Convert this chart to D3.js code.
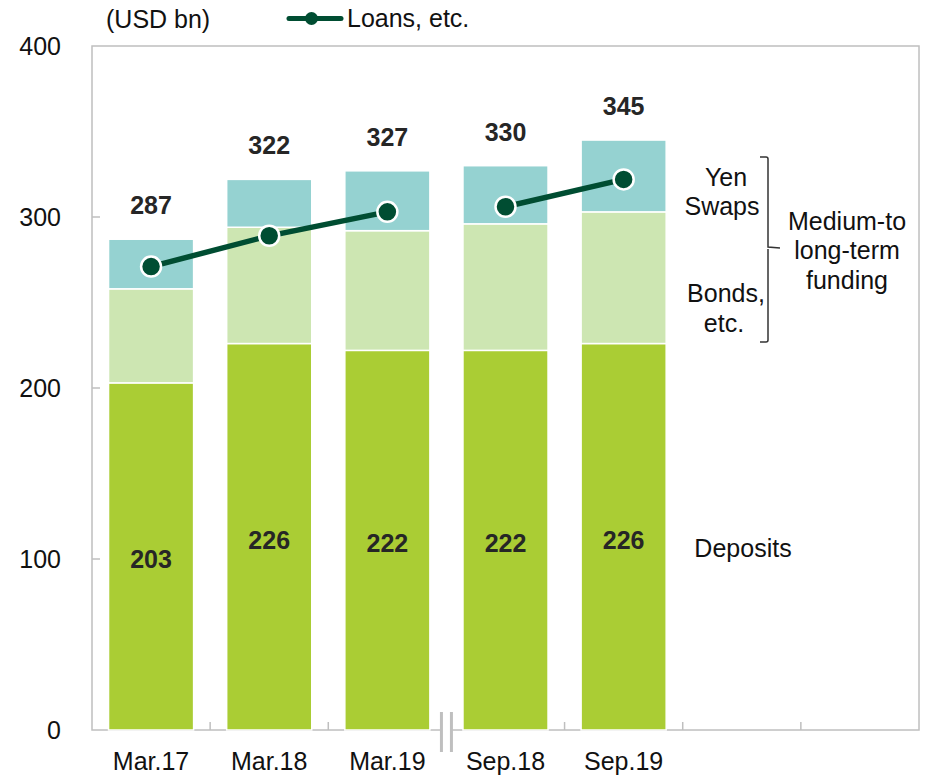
<!DOCTYPE html>
<html>
<head>
<meta charset="utf-8">
<script src="https://cdn.jsdelivr.net/npm/d3@7/dist/d3.min.js"></script>
<style>
  html, body { margin: 0; padding: 0; background: #fff; }
  svg { display: block; font-family: "Liberation Sans", Arial, sans-serif; }
</style>
</head>
<body>
<svg id="chart" width="928" height="777"></svg>
<script>
// Funding structure, USD bn
const categories = ["Mar.17", "Mar.18", "Mar.19", "Sep.18", "Sep.19"];
const deposits   = [203, 226, 222, 222, 226];
const bonds      = [55, 68, 70, 74, 77];
const yenSwaps   = [29, 28, 35, 34, 42];
const loans      = [271, 289, 303, 306, 322];
const yTicks     = [0, 100, 200, 300, 400];

const colors = {
  deposits: "#aacd34",
  bonds: "#cde6b2",
  swaps: "#95d2d1",
  line: "#004d32",
  axis: "#bfbfbf",
  text: "#262626"
};

const svg = d3.select("#chart");
const plotLeft = 92, plotRight = 919, plotTop = 46, plotBottom = 730;

// two spare slots keep the axis running past the last period
const slots = categories.concat(["_a", "_b"]);
const x = d3.scaleBand().domain(slots).range([plotLeft, plotRight])
  .paddingInner(0.28).paddingOuter(0.14);
const step = x.step();
const y = d3.scaleLinear().domain([0, 400]).range([plotBottom, plotTop]);

const rows = categories.map((c, i) => ({
  cat: c,
  period: c.split(".")[0],          // fiscal year-end (Mar) vs half-year (Sep)
  deposits: deposits[i],
  bonds: bonds[i],
  swaps: yenSwaps[i],
  loans: loans[i],
  total: deposits[i] + bonds[i] + yenSwaps[i]
}));
const keys = ["deposits", "bonds", "swaps"];
const stacked = d3.stack().keys(keys)(rows);

// plot frame
svg.append("rect")
  .attr("x", plotLeft).attr("y", plotTop)
  .attr("width", plotRight - plotLeft).attr("height", plotBottom - plotTop)
  .attr("fill", "none").attr("stroke", colors.axis).attr("stroke-width", 1.5);

// y axis ticks (inside) and labels
const yAxis = svg.append("g");
yAxis.selectAll("line").data(yTicks.slice(1, -1)).join("line")
  .attr("x1", plotLeft).attr("x2", plotLeft + 8)
  .attr("y1", d => y(d)).attr("y2", d => y(d))
  .attr("stroke", colors.axis).attr("stroke-width", 1.5);
yAxis.selectAll("text").data(yTicks).join("text")
  .attr("x", 61).attr("y", d => y(d) + 9)
  .attr("text-anchor", "end")
  .attr("font-size", 25).attr("fill", "#111")
  .text(d => d);

// stacked bars
const bw = x.bandwidth();
svg.append("g").selectAll("g").data(stacked).join("g")
  .attr("fill", d => colors[d.key])
  .selectAll("rect").data(d => d).join("rect")
  .attr("x", d => x(d.data.cat))
  .attr("y", d => y(d[1]))
  .attr("width", bw)
  .attr("height", d => y(d[0]) - y(d[1]))
  .attr("stroke", "#fff").attr("stroke-width", 1.5);

// x axis tick marks between periods (the break sits between Mar.19 and Sep.18)
const boundaries = slots.slice(1).map(s => x(s) - x.paddingInner() * step / 2);
const breakX = x("Sep.18") - x.paddingInner() * step / 2;
svg.append("g").selectAll("line")
  .data(boundaries.filter(b => Math.abs(b - breakX) > 1)).join("line")
  .attr("x1", d => d).attr("x2", d => d)
  .attr("y1", plotBottom).attr("y2", plotBottom - 8)
  .attr("stroke", colors.axis).attr("stroke-width", 1.5);

// axis break mark
const brk = svg.append("g");
brk.append("rect")
  .attr("x", breakX - 5).attr("y", plotBottom - 3)
  .attr("width", 10).attr("height", 6).attr("fill", "#fff");
[-5, 5].forEach(dx => {
  brk.append("line")
    .attr("x1", breakX + dx).attr("x2", breakX + dx)
    .attr("y1", plotBottom - 18).attr("y2", plotBottom + 22)
    .attr("stroke", colors.axis).attr("stroke-width", 3);
});

// x labels
svg.append("g").selectAll("text").data(categories).join("text")
  .attr("x", d => x(d) + bw / 2).attr("y", 770)
  .attr("text-anchor", "middle")
  .attr("font-size", 25).attr("fill", "#111")
  .text(d => d);

// total labels above bars
svg.append("g").selectAll("text").data(rows).join("text")
  .attr("x", d => x(d.cat) + bw / 2).attr("y", d => y(d.total) - 25)
  .attr("text-anchor", "middle")
  .attr("font-size", 25).attr("font-weight", "bold").attr("fill", colors.text)
  .text(d => d.total);

// deposit labels inside bars
svg.append("g").selectAll("text").data(rows).join("text")
  .attr("x", d => x(d.cat) + bw / 2).attr("y", d => (y(d.deposits) + y(0)) / 2 + 12)
  .attr("text-anchor", "middle")
  .attr("font-size", 25).attr("font-weight", "bold").attr("fill", colors.text)
  .text(d => d.deposits);

// loans line: one segment per period series, not joined across the break
const line = d3.line().x(d => x(d.cat) + bw / 2).y(d => y(d.loans));
const series = d3.groups(rows, d => d.period).map(g => g[1]);
svg.append("g").selectAll("path").data(series).join("path")
  .attr("d", line)
  .attr("fill", "none").attr("stroke", colors.line).attr("stroke-width", 5.5);
svg.append("g").selectAll("circle").data(rows).join("circle")
  .attr("cx", d => x(d.cat) + bw / 2).attr("cy", d => y(d.loans))
  .attr("r", 10)
  .attr("fill", colors.line).attr("stroke", "#fff").attr("stroke-width", 2.5);

// unit and legend
svg.append("text").attr("x", 106).attr("y", 28)
  .attr("font-size", 25).attr("fill", "#111").text("(USD bn)");
svg.append("line").attr("x1", 289).attr("x2", 341).attr("y1", 18.5).attr("y2", 18.5)
  .attr("stroke", colors.line).attr("stroke-width", 5).attr("stroke-linecap", "round");
svg.append("circle").attr("cx", 311.5).attr("cy", 18.5).attr("r", 6.5)
  .attr("fill", colors.line);
svg.append("text").attr("x", 347).attr("y", 27)
  .attr("font-size", 25).attr("fill", "#111").text("Loans, etc.");

// segment annotations on the right
const note = (txt, cx, by) => svg.append("text")
  .attr("x", cx).attr("y", by).attr("text-anchor", "middle")
  .attr("font-size", 25).attr("fill", "#111").text(txt);
note("Yen", 726, 186);
note("Swaps", 722, 215);
note("Bonds,", 726, 302);
note("etc.", 724, 332);
note("Medium-to", 847, 230);
note("long-term", 847, 259);
note("funding", 847, 289);
note("Deposits", 743, 557);

// bracket
svg.append("path")
  .attr("d", "M760,157 L766,157 Q768,157 768,159 L768,247 L780,248 M768,249 L768,340 Q768,342 766,342 L760,342")
  .attr("fill", "none").attr("stroke", "#333").attr("stroke-width", 1.5);
</script>
</body>
</html>
